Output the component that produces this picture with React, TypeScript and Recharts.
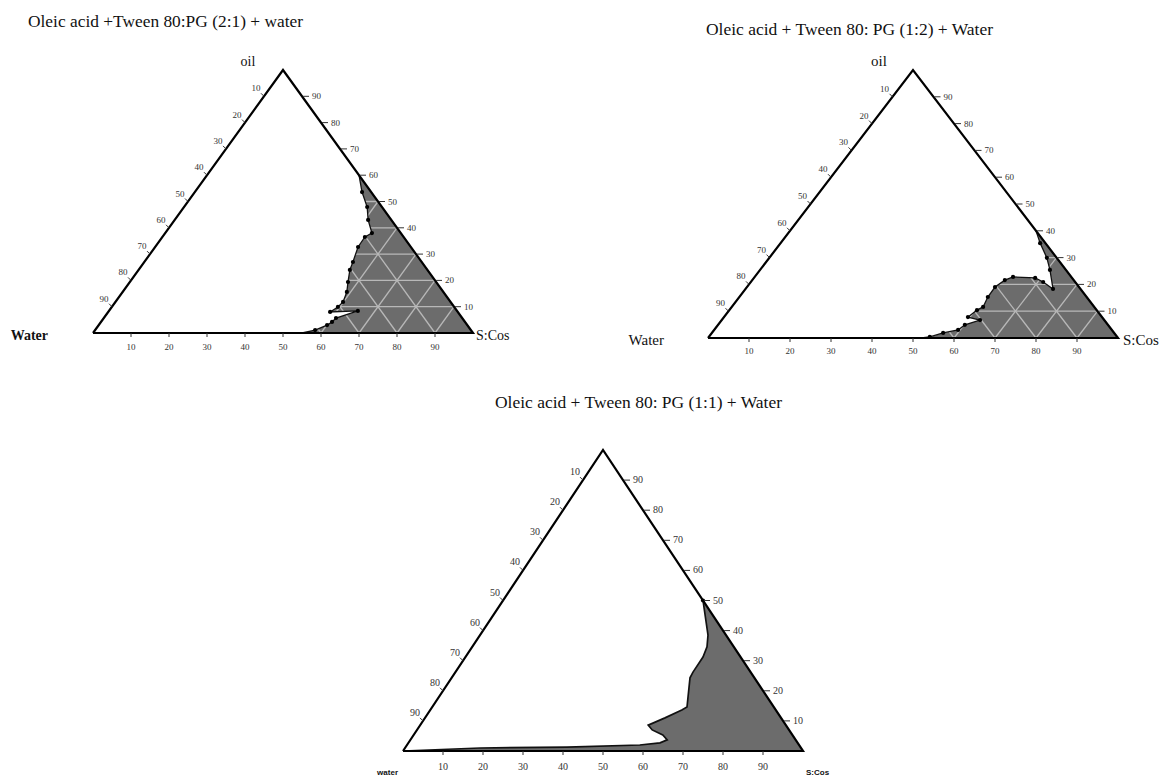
import React from 'react'
import { Scatter, ScatterChart, XAxis, YAxis } from 'recharts'

// composition point: oil % and surfactant:co-surfactant %, water is the rest
type Mix = { oil: number; smix: number }

const axisTicks = [10, 20, 30, 40, 50, 60, 70, 80, 90]
const gridLevels = [10, 20, 30, 40, 50, 60, 70, 80, 90]

const title21 = 'Oleic acid +Tween 80:PG (2:1) + water'
const title12 = 'Oleic acid + Tween 80: PG (1:2) + Water'
const title11 = 'Oleic acid + Tween 80: PG (1:1) + Water'

const corners21 = ['oil', 'Water', 'S:Cos']
const corners12 = ['oil', 'Water', 'S:Cos']
const corners11 = ['', 'water', 'S:Cos']

// phase boundary, from the oil/S:Cos edge down to the water/S:Cos edge
const boundary21: Mix[] = [
  { oil: 60, smix: 40 },
  { oil: 53.6, smix: 44 },
  { oil: 47.9, smix: 48.2 },
  { oil: 43, smix: 50.9 },
  { oil: 38, smix: 54.4 },
  { oil: 36.5, smix: 53.3 },
  { oil: 32.7, smix: 53.4 },
  { oil: 27, smix: 54.9 },
  { oil: 24, smix: 55.6 },
  { oil: 19.4, smix: 57.4 },
  { oil: 15.6, smix: 59 },
  { oil: 11.8, smix: 59.9 },
  { oil: 9.9, smix: 59.5 },
  { oil: 8, smix: 58.4 },
  { oil: 8.4, smix: 65.5 },
  { oil: 5.7, smix: 61.1 },
  { oil: 4.2, smix: 60.8 },
  { oil: 3, smix: 60.1 },
  { oil: 1.1, smix: 57.9 },
  { oil: 0, smix: 55 },
]

const boundary12: Mix[] = [
  { oil: 40, smix: 60 },
  { oil: 35.4, smix: 63.3 },
  { oil: 29.9, smix: 67.7 },
  { oil: 25.4, smix: 70.7 },
  { oil: 18.3, smix: 75 },
  { oil: 20.9, smix: 71.3 },
  { oil: 22.4, smix: 68.6 },
  { oil: 22.8, smix: 63 },
  { oil: 21.6, smix: 61.6 },
  { oil: 19, smix: 60.5 },
  { oil: 15.3, smix: 60.6 },
  { oil: 11.6, smix: 61.3 },
  { oil: 10.4, smix: 60.4 },
  { oil: 7.8, smix: 59.5 },
  { oil: 6.7, smix: 63 },
  { oil: 4.9, smix: 60.2 },
  { oil: 3, smix: 59.5 },
  { oil: 1.9, smix: 56.4 },
  { oil: 0.4, smix: 53.9 },
  { oil: 0, smix: 52 },
]

const boundary11: Mix[] = [
  { oil: 50, smix: 50 },
  { oil: 38.5, smix: 57 },
  { oil: 34.6, smix: 58.7 },
  { oil: 31.2, smix: 59.4 },
  { oil: 26.2, smix: 59.4 },
  { oil: 24.3, smix: 59.6 },
  { oil: 14.6, smix: 63.7 },
  { oil: 13.6, smix: 62.9 },
  { oil: 11, smix: 60 },
  { oil: 8.6, smix: 57 },
  { oil: 7, smix: 58.8 },
  { oil: 5.3, smix: 62.3 },
  { oil: 3.7, smix: 64.2 },
  { oil: 2.7, smix: 62.9 },
  { oil: 2, smix: 58.2 },
  { oil: 1.3, smix: 40.3 },
  { oil: 1, smix: 18.8 },
  { oil: 0, smix: 0 },
]

const TOP: Mix = { oil: 100, smix: 0 }
const WATER: Mix = { oil: 0, smix: 0 }
const SCOS: Mix = { oil: 0, smix: 100 }

const toXY = (m: Mix) => ({ x: m.smix + m.oil / 2, y: m.oil })

function gridPoints(): Mix[] {
  const pts: Mix[] = []
  for (const v of gridLevels) {
    pts.push({ oil: v, smix: 0 }, { oil: v, smix: 100 - v })
    pts.push({ oil: 0, smix: v }, { oil: 100 - v, smix: v })
    pts.push({ oil: 0, smix: 100 - v }, { oil: 100 - v, smix: 0 })
  }
  return pts
}

const hidden = () => <g />

const GridLines = (props: any) => {
  const pts = props.points || []
  const segs = []
  for (let i = 0; i + 1 < pts.length; i += 2) {
    segs.push(
      <line
        key={i}
        x1={pts[i].x}
        y1={pts[i].y}
        x2={pts[i + 1].x}
        y2={pts[i + 1].y}
        stroke="#b8b8b8"
        strokeWidth={1.3}
      />
    )
  }
  return <g>{segs}</g>
}

type Layout = {
  box: { left: number; top: number; width: number; height: number }
  plot: { x0: number; x1: number; yTop: number; yBase: number }
  titleAt: { x: number; y: number; len: number }
  tickFont: number
  bottomDy: number
  corner: { dx: number; dy: number; anchor: string; weight: string }[]
  cornerFont: { size: number; family: string }
  boundaryWidth: number
}

const serif = '"Liberation Serif", "Times New Roman", serif'

function Ternary({
  layout,
  title,
  corners,
  boundary,
  grid,
  dots,
}: {
  layout: Layout
  title: string
  corners: string[]
  boundary: Mix[]
  grid: boolean
  dots: 'all' | 'first'
}) {
  const { box, plot } = layout
  const margin = {
    left: plot.x0 - box.left,
    right: box.left + box.width - plot.x1,
    top: plot.yTop - box.top,
    bottom: box.top + box.height - plot.yBase,
  }
  const region = [...boundary, SCOS, boundary[0]].map(toXY)
  const white = [...boundary, WATER, TOP, boundary[0]].map(toXY)
  const outline = [WATER, SCOS, TOP, WATER].map(toXY)
  const line = boundary.map(toXY)
  const dotPts =
    dots === 'all' ? boundary.slice(1, -1).map(toXY) : [toXY(boundary[0])]

  const bottom = axisTicks.map((v) => ({ ...toXY({ oil: 0, smix: v }), v }))
  const right = axisTicks.map((v) => ({ ...toXY({ oil: v, smix: 100 - v }), v }))
  const left = axisTicks.map((v) => ({ ...toXY({ oil: 100 - v, smix: 0 }), v }))
  const cornerPts = [TOP, WATER, SCOS].map((m, i) => ({ ...toXY(m), i }))

  const tickText = { fontFamily: serif, fontSize: layout.tickFont, fill: '#333' }

  const BottomTick = (p: any) => (
    <g>
      <line x1={p.cx} y1={p.cy} x2={p.cx} y2={p.cy + 4} stroke="#333" />
      <text x={p.cx} y={p.cy + layout.bottomDy} textAnchor="middle" {...tickText}>
        {p.payload.v}
      </text>
    </g>
  )
  const RightTick = (p: any) => (
    <g>
      <line x1={p.cx + 1} y1={p.cy} x2={p.cx + 7} y2={p.cy} stroke="#333" />
      <text x={p.cx + 10} y={p.cy + 3} textAnchor="start" {...tickText}>
        {p.payload.v}
      </text>
    </g>
  )
  const LeftTick = (p: any) => (
    <g>
      <line x1={p.cx} y1={p.cy} x2={p.cx - 3} y2={p.cy - 3} stroke="#333" />
      <text x={p.cx - 8} y={p.cy - 5} textAnchor="middle" {...tickText}>
        {p.payload.v}
      </text>
    </g>
  )
  const Corner = (p: any) => {
    const c = layout.corner[p.payload.i]
    return (
      <text
        x={p.cx + c.dx}
        y={p.cy + c.dy}
        textAnchor={c.anchor as any}
        fontFamily={layout.cornerFont.family}
        fontSize={layout.cornerFont.size}
        fontWeight={c.weight}
        fill="#111"
      >
        {corners[p.payload.i]}
      </text>
    )
  }
  const Dot = (p: any) => <circle cx={p.cx} cy={p.cy} r={2.1} fill="#000" />

  return (
    <div style={{ position: 'absolute', left: box.left, top: box.top }}>
      <ScatterChart width={box.width} height={box.height} margin={margin}>
        <XAxis type="number" dataKey="x" domain={[0, 100]} hide />
        <YAxis type="number" dataKey="y" domain={[0, 100]} hide />
        <Scatter
          data={region}
          shape={hidden}
          line={{ stroke: 'none', fill: '#6c6c6c' }}
          isAnimationActive={false}
        />
        {grid && (
          <Scatter
            data={gridPoints().map(toXY)}
            shape={hidden}
            line={GridLines}
            isAnimationActive={false}
          />
        )}
        <Scatter
          data={white}
          shape={hidden}
          line={{ stroke: 'none', fill: '#ffffff' }}
          isAnimationActive={false}
        />
        <Scatter
          data={line}
          shape={hidden}
          line={{ stroke: '#111', strokeWidth: layout.boundaryWidth, fill: 'none' }}
          isAnimationActive={false}
        />
        <Scatter data={dotPts} shape={Dot} isAnimationActive={false} />
        <Scatter
          data={outline}
          shape={hidden}
          line={{ stroke: '#000', strokeWidth: 2.2, fill: 'none', strokeLinejoin: 'miter' }}
          isAnimationActive={false}
        />
        <Scatter data={bottom} shape={BottomTick} isAnimationActive={false} />
        <Scatter data={right} shape={RightTick} isAnimationActive={false} />
        <Scatter data={left} shape={LeftTick} isAnimationActive={false} />
        <Scatter data={cornerPts} shape={Corner} isAnimationActive={false} />
        <text
          x={layout.titleAt.x}
          y={layout.titleAt.y}
          textLength={layout.titleAt.len}
          lengthAdjust="spacingAndGlyphs"
          fontFamily={serif}
          fontSize={17}
          fill="#111"
        >
          {title}
        </text>
      </ScatterChart>
    </div>
  )
}

const layout21: Layout = {
  box: { left: 0, top: 0, width: 560, height: 370 },
  plot: { x0: 93, x1: 473, yTop: 70, yBase: 333 },
  titleAt: { x: 28, y: 27, len: 275 },
  tickFont: 9,
  bottomDy: 17,
  corner: [
    { dx: -35, dy: -4, anchor: 'middle', weight: 'normal' },
    { dx: -45, dy: 7, anchor: 'end', weight: 'bold' },
    { dx: 3, dy: 7, anchor: 'start', weight: 'normal' },
  ],
  cornerFont: { size: 14, family: serif },
  boundaryWidth: 1.3,
}

const layout12: Layout = {
  box: { left: 590, top: 0, width: 574, height: 370 },
  plot: { x0: 708, x1: 1118, yTop: 70, yBase: 338 },
  titleAt: { x: 116, y: 35, len: 287 },
  tickFont: 9,
  bottomDy: 16,
  corner: [
    { dx: -34, dy: -4, anchor: 'middle', weight: 'normal' },
    { dx: -44, dy: 7, anchor: 'end', weight: 'normal' },
    { dx: 5, dy: 7, anchor: 'start', weight: 'normal' },
  ],
  cornerFont: { size: 15, family: serif },
  boundaryWidth: 1.3,
}

const layout11: Layout = {
  box: { left: 360, top: 385, width: 500, height: 395 },
  plot: { x0: 403, x1: 803, yTop: 450, yBase: 751 },
  titleAt: { x: 135, y: 23, len: 287 },
  tickFont: 10,
  bottomDy: 19,
  corner: [
    { dx: 0, dy: 0, anchor: 'middle', weight: 'bold' },
    { dx: -5, dy: 24, anchor: 'end', weight: 'bold' },
    { dx: 3, dy: 24, anchor: 'start', weight: 'bold' },
  ],
  cornerFont: { size: 8, family: '"Liberation Sans", Arial, sans-serif' },
  boundaryWidth: 1.7,
}

export default function App() {
  return (
    <div
      style={{
        position: 'absolute',
        left: 0,
        top: 0,
        width: 1164,
        height: 780,
        background: '#fff',
        overflow: 'hidden',
      }}
    >
      <Ternary
        layout={layout21}
        title={title21}
        corners={corners21}
        boundary={boundary21}
        grid
        dots="all"
      />
      <Ternary
        layout={layout12}
        title={title12}
        corners={corners12}
        boundary={boundary12}
        grid
        dots="all"
      />
      <Ternary
        layout={layout11}
        title={title11}
        corners={corners11}
        boundary={boundary11}
        grid={false}
        dots="first"
      />
    </div>
  )
}
